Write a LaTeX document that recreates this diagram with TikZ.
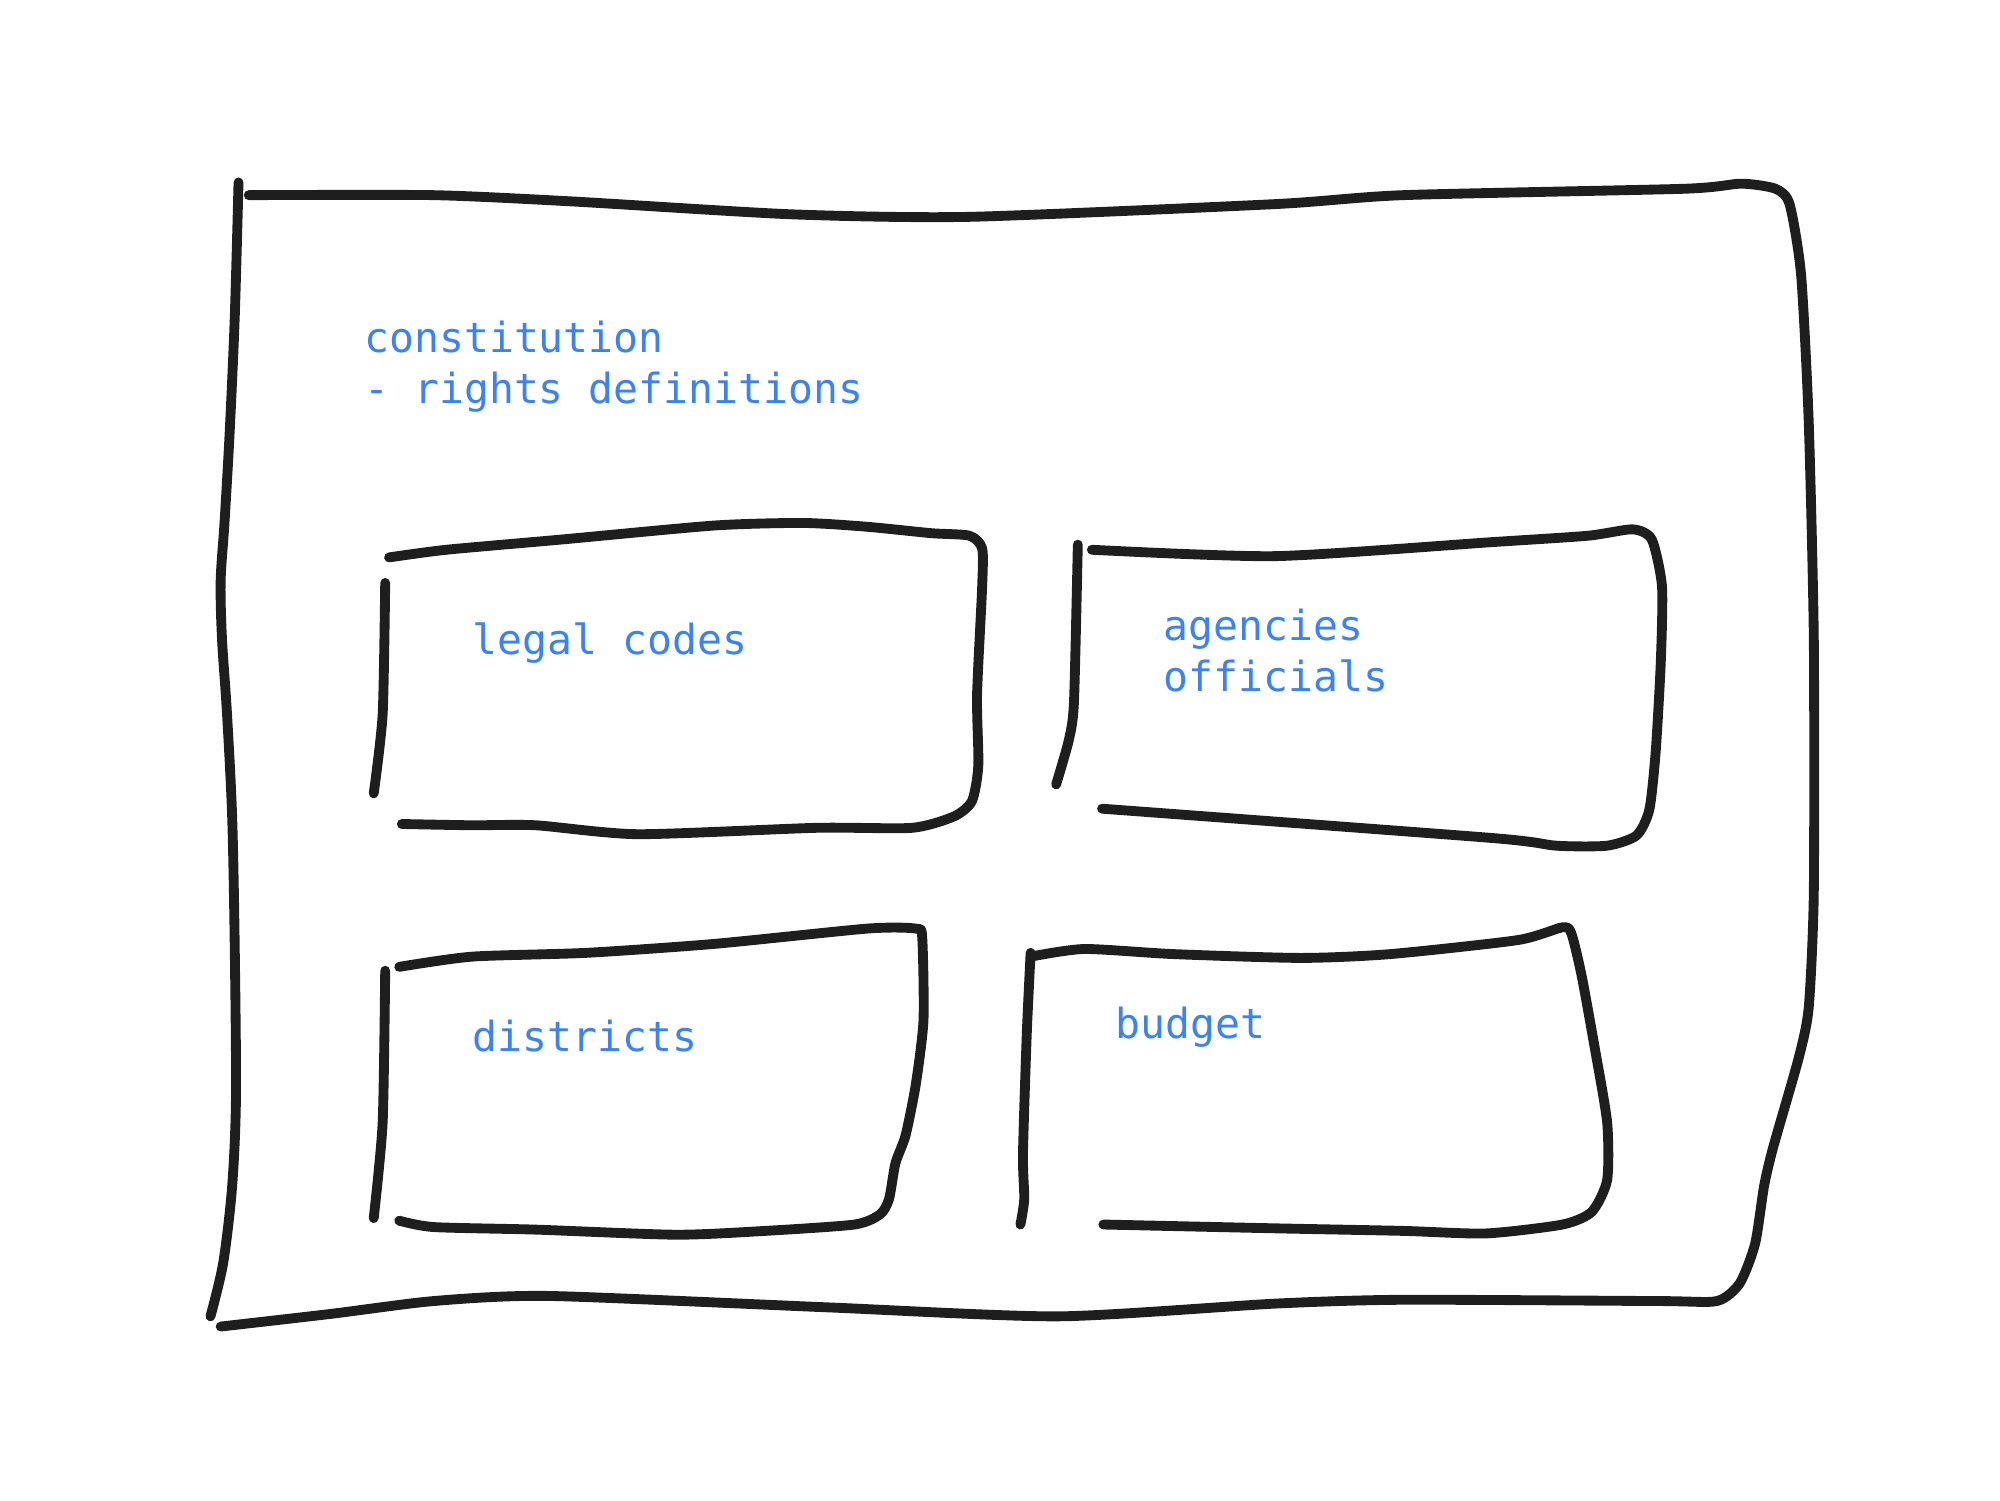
\documentclass[tikz,border=0pt]{standalone}
\usepackage{fontspec}
\setmonofont{DejaVu Sans Mono}
\definecolor{ink}{HTML}{1E1E1E}
\definecolor{lbl}{HTML}{3B82F6}
\begin{document}
\begin{tikzpicture}[x=0.012755cm,y=-0.012755cm,
  sk/.style={draw=ink,line width=2.8pt,line cap=round,line join=round},
  lab/.style={text=lbl,font=\ttfamily\fontsize{11.8}{14.5}\selectfont,inner sep=0pt,anchor=base west,align=left}]
\useasboundingbox (0,0) rectangle (1568,1176);
% outer frame
\draw[sk] plot[smooth,tension=0.5] coordinates {(187,143) (184,250) (180,340) (176,410) (173,455) (174,500) (178,560) (182,640) (184,740) (185,860) (182,930) (175,990) (165,1032)};
\draw[sk] plot[smooth,tension=0.4] coordinates {(195,153) (340,153) (450,158) (620,168) (760,170) (1000,160) (1100,153) (1320,148) (1365,144) (1392,148) (1403,160) (1412,215) (1418,330) (1422,500) (1422,700) (1418,790) (1410,830) (1390,900) (1383,930) (1376,975) (1364,1006) (1346,1020) (1300,1020) (1100,1019) (1000,1022) (830,1032) (650,1025) (430,1016) (340,1020) (260,1030) (173,1040)};
% legal codes box
\draw[sk] plot[smooth,tension=0.4] coordinates {(305,437) (350,431) (440,423) (560,412) (630,410) (680,413) (730,418) (760,420) (770,430) (770,460) (766,545) (767,600) (762,628) (748,640) (715,649) (640,649) (500,654) (420,647) (370,647) (315,646)};
\draw[sk] plot[smooth,tension=0.4] coordinates {(302,457) (300,560) (293,622)};
% agencies box
\draw[sk] plot[smooth,tension=0.4] coordinates {(845,427) (842,550) (838,580) (828,615)};
\draw[sk] plot[smooth,tension=0.4] coordinates {(856,431) (1000,436) (1170,425) (1245,420) (1280,415) (1295,423) (1303,460) (1302,520) (1298,590) (1293,635) (1283,655) (1260,663) (1220,663) (1170,657) (864,634)};
% districts box
\draw[sk] plot[smooth,tension=0.4] coordinates {(302,761) (300,880) (293,955)};
\draw[sk] plot[smooth,tension=0.4] coordinates {(313,758) (370,750) (460,747) (560,740) (680,728) (718,728) (723,735) (724,800) (718,850) (710,890) (702,912) (697,940) (690,952) (670,960) (600,965) (530,968) (420,964) (340,962) (313,957)};
% budget box
\draw[sk] plot[smooth,tension=0.4] coordinates {(808,747) (805,810) (802,905) (803,940) (800,960)};
\draw[sk] plot[smooth,tension=0.4] coordinates {(808,750) (850,744) (920,748) (1020,751) (1090,748) (1190,737) (1225,727) (1232,732) (1240,765) (1250,820) (1260,880) (1260,925) (1248,950) (1225,960) (1165,967) (1100,965) (1000,963) (865,960)};
% labels
\node[lab] (constitution) at (285,316) {constitution\\- rights definitions};
\node[lab] (legal) at (370,513) {legal codes};
\node[lab] (agencies) at (912,542) {agencies\\officials};
\node[lab] (districts) at (370,824) {districts};
\node[lab] (budget) at (874,814) {budget};
\end{tikzpicture}
\end{document}
